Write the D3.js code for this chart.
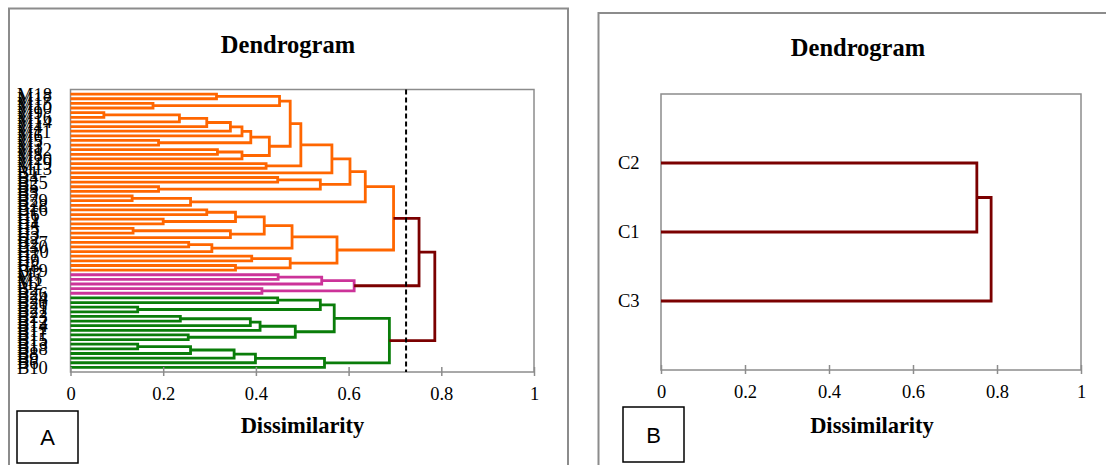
<!doctype html>
<html>
<head>
<meta charset="utf-8">
<style>
  body { margin: 0; background: #fff; }
  svg { display: block; }
  .frame { fill: none; stroke: #8c8c8c; stroke-width: 2; }
  .plotbox { fill: none; stroke: #8c8c8c; stroke-width: 1.5; }
  .title { font-family: "Liberation Serif", serif; font-weight: bold; font-size: 24.5px; text-anchor: middle; }
  .axtitle { font-family: "Liberation Serif", serif; font-weight: bold; font-size: 22.5px; text-anchor: middle; }
  .leaf { font-family: "Liberation Serif", serif; font-size: 18.5px; }
  .link { fill: none; stroke-width: 2.8; }
  .axis line { stroke: #8c8c8c; stroke-width: 1.5; }
  .axis text { font-family: "Liberation Serif", serif; font-size: 18.5px; fill: #000; }
  .tag rect { fill: #fff; stroke: #000; stroke-width: 1.5; }
  .tag text { font-family: "Liberation Sans", Arial, sans-serif; font-size: 22px; text-anchor: middle; }
</style>
<script src="https://cdn.jsdelivr.net/npm/d3@7"></script>
</head>
<body>
<svg width="1106" height="465"></svg>
<script>

// ---- data: panel A (objects, top to bottom) ----
var c2Leaves = ["M18","M17","M15","M10","M9","M16","M14","M4","M11","M6","M5","M3","M12","M8","M20",
                "M19","M13","B1","B4","B25","B5","B3","B7","B29","B28",
                "B16","H6","H1","H4","H5","H3","H2","B27","B30","H10","H7","H9","H8","B19"];
var c1Leaves = ["M7","M1","M2","B2","B26"];
var c3Leaves = ["B24","B20","B21","B22","B23","B12","B14","B17","B11","B15","B13","B18","B8","B9","B6","B10"];
var leafLabels = c2Leaves.concat(c1Leaves, c3Leaves);

// merges: [node, child 1, child 2, dissimilarity]
var mergesA = [
  ["a1","M18","M17",0.315], ["a2","M15","M10",0.178], ["a3","a1","a2",0.451],
  ["b1","M9","M16",0.072], ["b2","b1","M14",0.235], ["b3","b2","M4",0.294],
  ["b4","b3","M11",0.345], ["b5","b4","M6",0.370], ["k1","M5","M3",0.190],
  ["b6","b5","k1",0.389], ["d1","M12","M8",0.317], ["d2","d1","M20",0.370],
  ["b7","b6","d2",0.429], ["a4","a3","b7",0.474], ["e1","M19","M13",0.422],
  ["a5","a4","e1",0.497], ["a6","a5","B1",0.564], ["f1","B4","B25",0.447],
  ["f0","B5","B3",0.190], ["f2","f1","f0",0.539], ["a7","a6","f2",0.603],
  ["g0","B7","B29",0.133], ["g1","g0","B28",0.259], ["a8","a7","g1",0.636],
  ["h1","B16","H6",0.294], ["h2","H1","H4",0.200], ["h3","h1","h2",0.356],
  ["h4","H5","H3",0.135], ["x1","h4","H2",0.345], ["h5","h3","x1",0.418],
  ["y1","B27","B30",0.255], ["y2","y1","H10",0.305], ["h6","h5","y2",0.478],
  ["z1","H7","H9",0.391], ["z2","H8","B19",0.356], ["z3","z1","z2",0.474],
  ["h7","h6","z3",0.575], ["C2","a8","h7",0.697],
  ["p1","M7","M1",0.448], ["p2","p1","M2",0.542], ["p3","B2","B26",0.413],
  ["C1","p2","p3",0.612],
  ["q1","B24","B20",0.447], ["q2","B21","B22",0.145], ["q3","q1","q2",0.539],
  ["r1","B23","B12",0.237], ["r2","r1","B14",0.388], ["r3","r2","B17",0.409],
  ["r4","B11","B15",0.254], ["r5","r3","r4",0.485], ["r6","q3","r5",0.569],
  ["s1","B13","B18",0.145], ["s2","s1","B8",0.259], ["s3","s2","B9",0.353],
  ["s4","s3","B6",0.399], ["s5","s4","B10",0.548], ["C3","r6","s5",0.688],
  ["C21","C2","C1",0.752], ["root","C21","C3",0.786]
];
var cutLevel = 0.724;

// ---- data: panel B (classes) ----
var classLabels = ["C2","C1","C3"];
var mergesB = [["n1","C2","C1",0.752], ["root","n1","C3",0.786]];

var xTicks = [0, 0.2, 0.4, 0.6, 0.8, 1];
var xTickLabels = ["0","0.2","0.4","0.6","0.8","1"];

var colors = { C2: "#ff6600", C1: "#cc3399", C3: "#0a7d0a", above: "#7b0000" };

var svg = d3.select("svg");

function layout(leaves, merges) {
  var pos = {}, hgt = {}, members = {};
  leaves.forEach(function(l, i) { pos[l] = i + 1; hgt[l] = 0; members[l] = [l]; });
  merges.forEach(function(m) {
    pos[m[0]] = (pos[m[1]] + pos[m[2]]) / 2;
    hgt[m[0]] = m[3];
    members[m[0]] = members[m[1]].concat(members[m[2]]);
  });
  return { pos: pos, hgt: hgt, members: members };
}

function drawLinks(g, merges, L, x, y, colorOf) {
  g.selectAll(".link")
   .data(merges)
   .enter().append("path")
   .attr("class", "link")
   .attr("stroke", colorOf)
   .attr("d", function(m) {
      var a = m[1], b = m[2];
      return "M" + x(L.hgt[a]) + "," + y(L.pos[a]) +
             "H" + x(m[3]) + "V" + y(L.pos[b]) + "H" + x(L.hgt[b]);
   });
}

function xAxis(g, x, y0) {
  var ax = g.append("g").attr("class", "axis")
    .attr("transform", "translate(0," + y0 + ")")
    .call(d3.axisBottom(x).tickValues(xTicks)
          .tickFormat(function(d, i) { return xTickLabels[i]; })
          .tickSize(4).tickSizeOuter(0));
  ax.select(".domain").remove();
  ax.selectAll(".tick line").attr("y1", -5).attr("y2", 4);
  ax.selectAll(".tick text").attr("y", 28).attr("dy", 0);
}

function tag(x0, y0, w, h, letter) {
  var t = svg.append("g").attr("class", "tag");
  t.append("rect").attr("x", x0).attr("y", y0).attr("width", w).attr("height", h);
  t.append("text").attr("x", x0 + w / 2).attr("y", y0 + h / 2 + 8).text(letter);
}

// ================= panel A =================
svg.append("path").attr("class", "frame").attr("d", "M9,470V8.5H568V470");
svg.append("text").attr("class", "title").attr("x", 288).attr("y", 53).text("Dendrogram");

var xA = d3.scaleLinear().domain([0, 1]).range([70.5, 534]);
var yA = d3.scaleLinear().domain([0, leafLabels.length + 1]).range([89.5, 372]);

var gA = svg.append("g");
gA.append("rect").attr("class", "plotbox")
  .attr("x", xA(0)).attr("y", yA(0)).attr("width", xA(1) - xA(0)).attr("height", yA(leafLabels.length + 1) - yA(0));

var LA = layout(leafLabels, mergesA);
var clusterOf = {};
c2Leaves.forEach(function(l) { clusterOf[l] = "C2"; });
c1Leaves.forEach(function(l) { clusterOf[l] = "C1"; });
c3Leaves.forEach(function(l) { clusterOf[l] = "C3"; });
function colorA(m) {
  var c = LA.members[m[0]].map(function(l) { return clusterOf[l]; });
  var same = c.every(function(v) { return v === c[0]; });
  return same ? colors[c[0]] : colors.above;
}
drawLinks(gA, mergesA, LA, xA, yA, colorA);

gA.selectAll(".leaf")
  .data(leafLabels)
  .enter().append("text")
  .attr("class", "leaf")
  .attr("x", 17)
  .attr("y", function(d, i) { return yA(i + 1); })
  .attr("dy", "0.35em")
  .text(function(d) { return d; });

gA.append("line")
  .attr("x1", xA(cutLevel)).attr("x2", xA(cutLevel))
  .attr("y1", yA(0)).attr("y2", yA(leafLabels.length + 1))
  .attr("stroke", "#000").attr("stroke-width", 2).attr("stroke-dasharray", "5,3");

xAxis(gA, xA, yA(leafLabels.length + 1));
svg.append("text").attr("class", "axtitle").attr("x", 302.5).attr("y", 433).text("Dissimilarity");
tag(17, 411, 61, 52, "A");

// ================= panel B =================
svg.append("path").attr("class", "frame").attr("d", "M598.5,470V13H1110");
svg.append("text").attr("class", "title").attr("x", 858).attr("y", 56).text("Dendrogram");

var xB = d3.scaleLinear().domain([0, 1]).range([661, 1081]);
var yB = d3.scaleLinear().domain([0, classLabels.length + 1]).range([94, 370]);

var gB = svg.append("g");
gB.append("rect").attr("class", "plotbox")
  .attr("x", xB(0)).attr("y", yB(0)).attr("width", xB(1) - xB(0)).attr("height", yB(classLabels.length + 1) - yB(0));

var LB = layout(classLabels, mergesB);
drawLinks(gB, mergesB, LB, xB, yB, function() { return colors.above; });

gB.selectAll(".leaf")
  .data(classLabels)
  .enter().append("text")
  .attr("class", "leaf")
  .attr("x", 618)
  .attr("y", function(d, i) { return yB(i + 1); })
  .attr("dy", "0.35em")
  .text(function(d) { return d; });

xAxis(gB, xB, yB(classLabels.length + 1));
svg.append("text").attr("class", "axtitle").attr("x", 872).attr("y", 433).text("Dissimilarity");
tag(623, 407, 61, 55, "B");

</script>
</body>
</html>
